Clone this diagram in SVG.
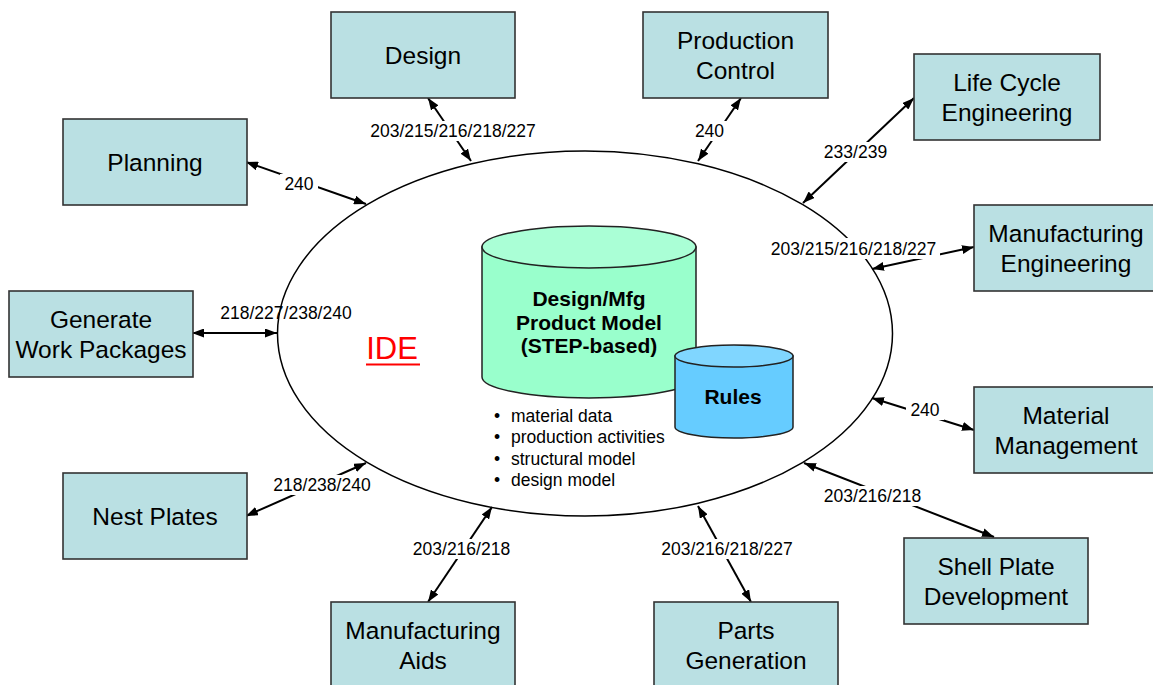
<svg xmlns="http://www.w3.org/2000/svg" width="1153" height="685" viewBox="0 0 1153 685">
<style>
.box rect{fill:#BAE0E3;stroke:#333333;stroke-width:1.6}
.box text{font-family:"Liberation Sans",Arial,sans-serif;font-size:24.5px;fill:#000;text-anchor:middle}
.conn line{stroke:#000;stroke-width:2;marker-start:url(#ah);marker-end:url(#ah)}
.lbl{font-family:"Liberation Sans",Arial,sans-serif;font-size:17.5px;fill:#000;text-anchor:middle}
.bg{fill:#fff}
.cyl{stroke:#222;stroke-width:1.5}
.bold{font-family:"Liberation Sans",Arial,sans-serif;font-size:21px;font-weight:bold;fill:#000;text-anchor:middle}
.bul{font-family:"Liberation Sans",Arial,sans-serif;font-size:17.5px;fill:#000}
</style>
<defs>
<marker id="ah" viewBox="0 0 12 9" refX="12" refY="4.5" markerWidth="12" markerHeight="9" markerUnits="userSpaceOnUse" orient="auto-start-reverse">
<path d="M0,0 L12,4.5 L0,9 z" fill="#000"/>
</marker>
</defs>
<rect width="1153" height="685" fill="#fff"/>

<g id="ide">
<ellipse cx="585" cy="333.5" rx="307.5" ry="182.5" fill="none" stroke="#000" stroke-width="1.5"/>
<text x="392" y="359" font-family="'Liberation Sans',Arial,sans-serif" font-size="31" fill="#FF0000" text-anchor="middle">IDE</text>
<rect x="366" y="363.5" width="54" height="2" fill="#FF0000"/>
</g>

<g id="connectors" class="conn">
<line x1="471" y1="161" x2="428" y2="98"/>
<line x1="366" y1="204" x2="246" y2="162"/>
<line x1="277" y1="333" x2="192" y2="333"/>
<line x1="366" y1="463" x2="246" y2="516"/>
<line x1="492" y1="507" x2="428" y2="602"/>
<line x1="698" y1="506" x2="751" y2="602"/>
<line x1="804" y1="463" x2="994" y2="537"/>
<line x1="872" y1="398" x2="974" y2="430"/>
<line x1="872" y1="269" x2="974" y2="247"/>
<line x1="803" y1="203" x2="914" y2="98"/>
<line x1="698" y1="161" x2="741" y2="98"/>
</g>

<g id="labels">
<rect class="bg" x="367" y="121" width="172" height="20"/>
<text class="lbl" x="453" y="137">203/215/216/218/227</text>
<rect class="bg" x="280" y="174" width="38" height="20"/>
<text class="lbl" x="299" y="190">240</text>
<text class="lbl" x="286" y="319">218/227/238/240</text>
<rect class="bg" x="270" y="475" width="104" height="20"/>
<text class="lbl" x="322" y="491">218/238/240</text>
<rect class="bg" x="411" y="539" width="102" height="20"/>
<text class="lbl" x="461.5" y="555">203/216/218</text>
<rect class="bg" x="659" y="539" width="137" height="20"/>
<text class="lbl" x="727" y="555">203/216/218/227</text>
<rect class="bg" x="821" y="486" width="103" height="20"/>
<text class="lbl" x="872.5" y="502">203/216/218</text>
<rect class="bg" x="906" y="400" width="38" height="20"/>
<text class="lbl" x="925" y="416">240</text>
<rect class="bg" x="768" y="238" width="172" height="21"/>
<text class="lbl" x="853.5" y="255">203/215/216/218/227</text>
<rect class="bg" x="821" y="142" width="69" height="20"/>
<text class="lbl" x="855.5" y="158">233/239</text>
<rect class="bg" x="692" y="121" width="35" height="20"/>
<text class="lbl" x="709.5" y="137">240</text>
</g>

<g id="product-model">
<path class="cyl" d="M482,247 L482,377 A107,21 0 0 0 696,377 L696,247 Z" fill="#99FFCC"/>
<ellipse class="cyl" cx="589" cy="247" rx="107" ry="21" fill="#AAFFD6"/>
<text class="bold" x="589" y="306">Design/Mfg</text>
<text class="bold" x="589" y="330">Product Model</text>
<text class="bold" x="589" y="353">(STEP-based)</text>
</g>

<g id="rules">
<path class="cyl" d="M675,356 L675,427 A59,11 0 0 0 793,427 L793,356 Z" fill="#66CCFF"/>
<ellipse class="cyl" cx="734" cy="356" rx="59" ry="11" fill="#80D6FF"/>
<text class="bold" x="733" y="404">Rules</text>
</g>

<g id="bullets" class="bul">
<text x="497" y="421.5" text-anchor="middle">•</text><text x="511" y="421.5">material data</text>
<text x="497" y="443" text-anchor="middle">•</text><text x="511" y="443">production activities</text>
<text x="497" y="464.5" text-anchor="middle">•</text><text x="511" y="464.5">structural model</text>
<text x="497" y="486" text-anchor="middle">•</text><text x="511" y="486">design model</text>
</g>

<g id="design" class="box"><rect x="331" y="12" width="184" height="86"/><text x="423" y="63.5">Design</text></g>
<g id="planning" class="box"><rect x="63" y="119" width="184" height="86"/><text x="155" y="170.5">Planning</text></g>
<g id="generate-work-packages" class="box"><rect x="9" y="291" width="184" height="86"/><text x="101" y="327.5">Generate</text><text x="101" y="357.5">Work Packages</text></g>
<g id="nest-plates" class="box"><rect x="63" y="473" width="184" height="86"/><text x="155" y="524.5">Nest Plates</text></g>
<g id="manufacturing-aids" class="box"><rect x="331" y="602" width="184" height="86"/><text x="423" y="638.5">Manufacturing</text><text x="423" y="668.5">Aids</text></g>
<g id="parts-generation" class="box"><rect x="654" y="602" width="184" height="86"/><text x="746" y="638.5">Parts</text><text x="746" y="668.5">Generation</text></g>
<g id="shell-plate-development" class="box"><rect x="904" y="538" width="184" height="86"/><text x="996" y="574.5">Shell Plate</text><text x="996" y="604.5">Development</text></g>
<g id="material-management" class="box"><rect x="974" y="387" width="184" height="86"/><text x="1066" y="423.5">Material</text><text x="1066" y="453.5">Management</text></g>
<g id="manufacturing-engineering" class="box"><rect x="974" y="205" width="184" height="86"/><text x="1066" y="241.5">Manufacturing</text><text x="1066" y="271.5">Engineering</text></g>
<g id="life-cycle-engineering" class="box"><rect x="914" y="54" width="186" height="86"/><text x="1007" y="90.5">Life Cycle</text><text x="1007" y="120.5">Engineering</text></g>
<g id="production-control" class="box"><rect x="643" y="12" width="185" height="86"/><text x="735.5" y="48.5">Production</text><text x="735.5" y="78.5">Control</text></g>
</svg>
